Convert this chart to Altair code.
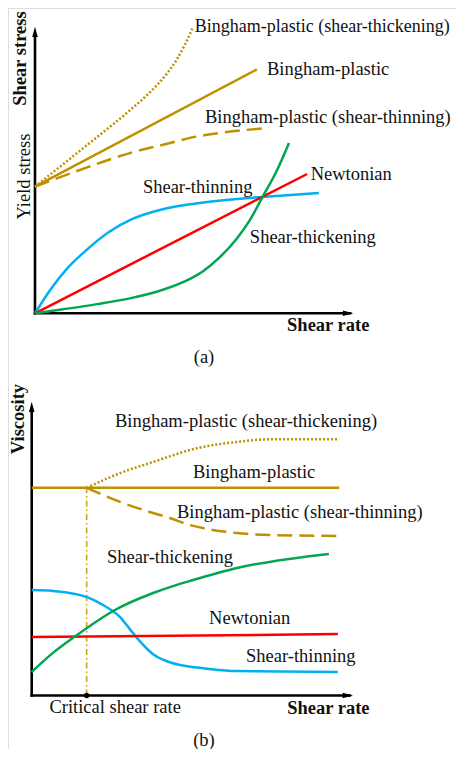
import altair as alt
import pandas as pd

FONT = "Liberation Serif"
GOLD = "#BF9000"
BLUE = "#00B0F0"
RED = "#FF0000"
GREEN = "#00A650"
DASHDOT = "#D4A017"
TXT = "#111111"

W, H = 448, 741

# ---------------- panel (a): shear stress vs shear rate ----------------
a_newt_x = [0, 8.55]
a_newt_y = [0, 4.86]
a_thin_x = [0, 0.5, 1.0, 1.51, 2.3, 3.08, 4.08, 5.18, 6.35, 7.13, 8.92]
a_thin_y = [0, 0.85, 1.55, 2.10, 2.82, 3.30, 3.65, 3.85, 3.99, 4.06, 4.20]
a_thick_x = [0, 0.88, 1.95, 2.98, 4.02, 4.87, 5.28, 5.8, 6.35, 6.75, 7.13, 7.6, 7.98]
a_thick_y = [0, 0.14, 0.32, 0.52, 0.82, 1.20, 1.47, 1.95, 2.62, 3.25, 4.02, 4.98, 5.94]
a_bp_x = [0, 6.97]
a_bp_y = [4.42, 8.51]
a_bpthick_x = [0, 0.88, 1.95, 2.98, 3.6, 4.1, 4.45, 4.7, 4.95]
a_bpthick_y = [4.42, 5.20, 6.15, 7.08, 7.70, 8.30, 8.85, 9.35, 9.95]
a_bpthin_x = [0, 0.79, 1.41, 2.98, 4.24, 4.87, 5.81, 7.35]
a_bpthin_y = [4.42, 4.75, 5.00, 5.59, 5.94, 6.12, 6.29, 6.47]

a_labels = ["Bingham-plastic", "Bingham-plastic (shear-thinning)", "Newtonian",
            "Shear-thinning", "Shear-thickening"]
a_label_x = [7.29, 5.34, 8.66, 3.39, 6.75]
a_label_y = [8.51, 6.84, 4.86, 4.42, 2.67]
a_top_label = ["Bingham-plastic (shear-thickening)"]
a_top_x = [5.02]
a_top_y = [9.98]

# ---------------- panel (b): viscosity vs shear rate ----------------
b_crit = 1.71
b_bp_x = [0, 9.57]
b_bp_y = [7.07, 7.07]
b_bpthick_x = [1.71, 2.75, 3.78, 4.30, 4.93, 5.33, 6.39, 7.42, 9.57]
b_bpthick_y = [7.07, 7.57, 7.95, 8.14, 8.36, 8.46, 8.63, 8.72, 8.72]
b_bpthin_x = [1.71, 2.75, 3.78, 4.30, 4.93, 5.33, 6.39, 7.42, 9.57]
b_bpthin_y = [7.07, 6.59, 6.21, 6.04, 5.80, 5.70, 5.53, 5.46, 5.43]
b_thick_x = [0, 0.66, 1.41, 1.72, 2.59, 3.78, 4.30, 4.93, 6.39, 9.25]
b_thick_y = [0.80, 1.45, 2.06, 2.30, 2.91, 3.49, 3.69, 3.90, 4.34, 4.82]
b_newt_x = [0, 9.53]
b_newt_y = [1.99, 2.09]
b_thin_x = [0, 0.66, 1.72, 2.22, 2.75, 3.06, 3.37, 3.78, 4.30, 4.93, 5.33, 6.39, 9.53]
b_thin_y = [3.59, 3.56, 3.35, 3.08, 2.67, 2.25, 1.84, 1.40, 1.13, 0.98, 0.93, 0.83, 0.80]

b_labels = ["Bingham-plastic (shear-thickening)", "Bingham-plastic",
            "Bingham-plastic (shear-thinning)", "Shear-thickening",
            "Newtonian", "Shear-thinning", "Critical shear rate"]
b_label_x = [2.59, 5.02, 4.52, 2.34, 5.52, 6.67, 0.55]
b_label_y = [9.34, 7.61, 6.25, 4.71, 2.64, 1.34, -0.39]

# scale domains place each panel in its part of the figure
A_DOM = ([-0.848, 13.227], [-15.203, 10.652])
B_DOM = ([-0.738, 13.206], [-1.821, 23.40])

ARROW_UP = "M0,0L-0.7,2.6L0.7,2.6Z"
ARROW_RIGHT = "M0,0L-2.6,-0.7L-2.6,0.7Z"


def enc(dom):
    dx, dy = dom
    return dict(
        x=alt.X("x:Q", scale=alt.Scale(domain=dx, nice=False, zero=False), axis=None),
        y=alt.Y("y:Q", scale=alt.Scale(domain=dy, nice=False, zero=False), axis=None),
    )


def curve(xs, ys, color, dom, dash=None, width=2.5):
    df = pd.DataFrame({"x": xs, "y": ys})
    kw = dict(color=color, strokeWidth=width, interpolate="monotone", strokeCap="butt")
    if dash:
        kw["strokeDash"] = dash
    return alt.Chart(df).mark_line(**kw).encode(**enc(dom))


def axes(dom, xend, yend):
    df = pd.DataFrame({"x": [0, 0], "y": [0, 0], "x2": [xend, 0], "y2": [0, yend]})
    return alt.Chart(df).mark_rule(color="black", strokeWidth=2.6, strokeCap="square").encode(
        x2="x2:Q", y2="y2:Q", **enc(dom))


def arrow(x, y, shape, dom):
    df = pd.DataFrame({"x": [x], "y": [y]})
    return alt.Chart(df).mark_point(shape=shape, filled=True, size=64, color="black",
                                    opacity=1, strokeWidth=0).encode(**enc(dom))


def texts(labels, xs, ys, dom, **kw):
    df = pd.DataFrame({"x": xs, "y": ys, "t": labels})
    base = dict(font=FONT, fontSize=18.5, color=TXT)
    base.update(kw)
    return alt.Chart(df).mark_text(**base).encode(text="t:N", **enc(dom))


panel_a = alt.layer(
    axes(A_DOM, 9.9, 9.7),
    arrow(10, 0, ARROW_RIGHT, A_DOM),
    arrow(0, 10, ARROW_UP, A_DOM),
    curve(a_bpthick_x, a_bpthick_y, GOLD, A_DOM, dash=[2, 2]),
    curve(a_bp_x, a_bp_y, GOLD, A_DOM),
    curve(a_bpthin_x, a_bpthin_y, GOLD, A_DOM, dash=[15, 7]),
    curve(a_thin_x, a_thin_y, BLUE, A_DOM),
    curve(a_newt_x, a_newt_y, RED, A_DOM),
    curve(a_thick_x, a_thick_y, GREEN, A_DOM),
    texts(a_labels, a_label_x, a_label_y, A_DOM, align="left", baseline="middle"),
    texts(a_top_label, a_top_x, a_top_y, A_DOM, align="left", baseline="middle", fontSize=18),
    texts(["Shear rate"], [7.92], [-0.41], A_DOM, align="left", baseline="middle", fontWeight="bold"),
    texts(["Shear stress"], [-0.47], [8.89], A_DOM, align="center", baseline="middle",
          fontWeight="bold", angle=270),
    texts(["Yield stress"], [-0.35], [4.77], A_DOM, align="center", baseline="middle", angle=270),
    texts(["(a)"], [5.31], [-1.52], A_DOM, align="center", baseline="middle"),
)

panel_b = alt.layer(
    axes(B_DOM, 9.9, 9.7),
    arrow(10, 0, ARROW_RIGHT, B_DOM),
    arrow(0, 10, ARROW_UP, B_DOM),
    alt.Chart(pd.DataFrame({"x": [b_crit], "y": [0], "y2": [b_bp_y[0]]})).mark_rule(
        color=DASHDOT, strokeWidth=1.6, strokeDash=[6, 3, 1.5, 3]).encode(y2="y2:Q", **enc(B_DOM)),
    alt.Chart(pd.DataFrame({"x": [b_crit], "y": [0]})).mark_point(
        shape="circle", filled=True, size=28, color="black", opacity=1).encode(**enc(B_DOM)),
    curve(b_bpthick_x, b_bpthick_y, GOLD, B_DOM, dash=[2, 2]),
    curve(b_bp_x, b_bp_y, GOLD, B_DOM),
    curve(b_bpthin_x, b_bpthin_y, GOLD, B_DOM, dash=[15, 7]),
    curve(b_thin_x, b_thin_y, BLUE, B_DOM),
    curve(b_newt_x, b_newt_y, RED, B_DOM),
    curve(b_thick_x, b_thick_y, GREEN, B_DOM),
    texts(b_labels, b_label_x, b_label_y, B_DOM, align="left", baseline="middle"),
    texts(["Shear rate"], [7.95], [-0.43], B_DOM, align="left", baseline="middle", fontWeight="bold"),
    texts(["Viscosity"], [-0.43], [9.41], B_DOM, align="center", baseline="middle",
          fontWeight="bold", angle=270),
    texts(["(b)"], [5.36], [-1.5], B_DOM, align="center", baseline="middle"),
)

chart = alt.layer(panel_a, panel_b).resolve_scale(
    x="independent", y="independent"
).properties(
    width=W, height=H,
    autosize=alt.AutoSizeParams(type="none"),
    padding=0,
).configure_view(stroke=None).configure(background="white")

chart.save("out.html", embed_options={"renderer": "svg", "actions": False})
